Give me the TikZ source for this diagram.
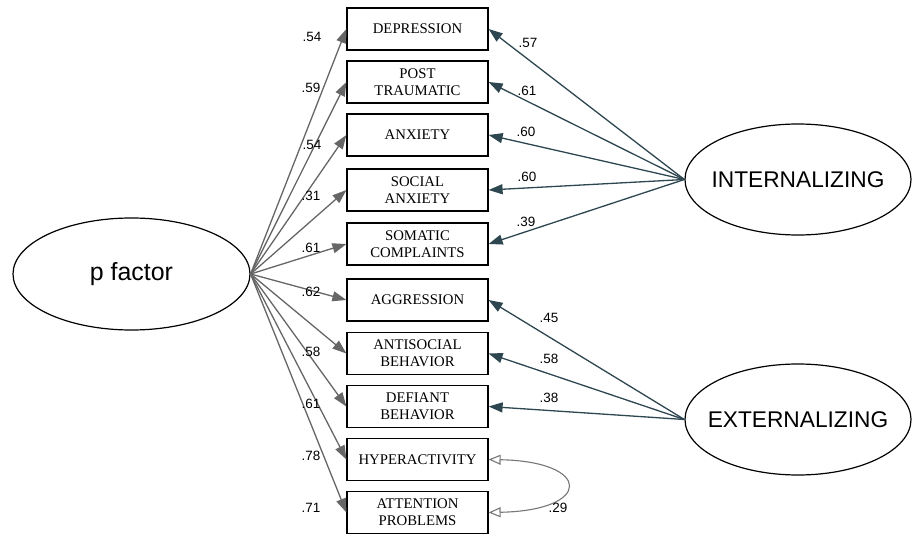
\documentclass[tikz,border=0pt]{standalone}
\usepackage{fontspec}
\setmainfont{Liberation Serif}
\setsansfont{Liberation Sans}
\usetikzlibrary{arrows.meta,shapes.geometric}
\definecolor{pgray}{HTML}{666666}
\definecolor{lslate}{HTML}{2D4650}
\definecolor{cgray}{HTML}{777777}
\begin{document}
\begin{tikzpicture}[x=1bp,y=-1bp,
  obs/.style={draw=black, line width=1.2bp, fill=white, minimum width=141bp, minimum height=42bp,
    inner sep=0pt, align=center, font=\fontsize{14.8}{16.8}\selectfont},
  lat/.style={ellipse, draw=black, line width=1.2bp, minimum width=226bp, minimum height=111bp,
    inner xsep=-20bp, inner ysep=0pt, font=\sffamily\fontsize{22.8}{27}\selectfont},
  parr/.style={draw=pgray, line width=1.3bp, -{Triangle[length=14bp,width=10bp]}},
  larr/.style={draw=lslate, line width=1.3bp, -{Triangle[length=14bp,width=10bp]}},
  carr/.style={draw=cgray, line width=1.1bp,
    {Triangle[open,length=12bp,width=10bp,fill=white]}-{Triangle[open,length=12bp,width=10bp,fill=white]}},
  lbl/.style={font=\sffamily\fontsize{13.5}{15}\selectfont, inner sep=0pt}
]
\useasboundingbox (0,0) rectangle (914,536);

% latent variables
\node[lat, minimum width=237bp, minimum height=112bp, font=\sffamily\fontsize{25}{30}\selectfont] (pf) at (131.5,274) {p factor};
\node[lat] (int) at (798,179.5) {INTERNALIZING};
\node[lat] (ext) at (798,419.5) {EXTERNALIZING};

% observed variables
\node[obs] (b1) at (417.5,29) {DEPRESSION};
\node[obs] (b2) at (417.5,82) {POST\\TRAUMATIC};
\node[obs] (b3) at (417.5,135) {ANXIETY};
\node[obs] (b4) at (417.5,190) {SOCIAL\\ANXIETY};
\node[obs] (b5) at (417.5,244) {SOMATIC\\COMPLAINTS};
\node[obs] (b6) at (417.5,300) {AGGRESSION};
\node[obs] (b7) at (417.5,353.5) {ANTISOCIAL\\BEHAVIOR};
\node[obs] (b8) at (417.5,406.5) {DEFIANT\\BEHAVIOR};
\node[obs] (b9) at (417.5,459.5) {HYPERACTIVITY};
\node[obs] (b10) at (417.5,512.5) {ATTENTION\\PROBLEMS};

% p factor loadings
\foreach \b in {b1,b2,b3,b4,b5,b6,b7,b8,b9,b10}
  \draw[parr] (pf.east) -- (\b.west);

% internalizing loadings
\foreach \b in {b1,b2,b3,b4,b5}
  \draw[larr] (int.west) -- (\b.east);

% externalizing loadings
\foreach \b in {b6,b7,b8}
  \draw[larr] (ext.west) -- (\b.east);

% correlation
\draw[carr] (b9.east) .. controls +(104,2) and +(104,-2) .. (b10.east);

% labels, p factor
\node[lbl] (p1) at (312,37) {.54};
\node[lbl] (p2) at (311,88) {.59};
\node[lbl] (p3) at (312,145) {.54};
\node[lbl] (p4) at (311,196) {.31};
\node[lbl] (p5) at (311,248) {.61};
\node[lbl] (p6) at (311,292) {.62};
\node[lbl] (p7) at (311,352) {.58};
\node[lbl] (p8) at (311,404) {.61};
\node[lbl] (p9) at (311,456) {.78};
\node[lbl] (p10) at (311,508) {.71};

% labels, internalizing
\node[lbl] (i1) at (528,43) {.57};
\node[lbl] (i2) at (527,91) {.61};
\node[lbl] (i3) at (526,132) {.60};
\node[lbl] (i4) at (527,177) {.60};
\node[lbl] (i5) at (526,222) {.39};

% labels, externalizing
\node[lbl] (e1) at (549,318) {.45};
\node[lbl] (e2) at (549,359) {.58};
\node[lbl] (e3) at (549,398) {.38};
\node[lbl] (c1) at (558,508) {.29};
\end{tikzpicture}
\end{document}
